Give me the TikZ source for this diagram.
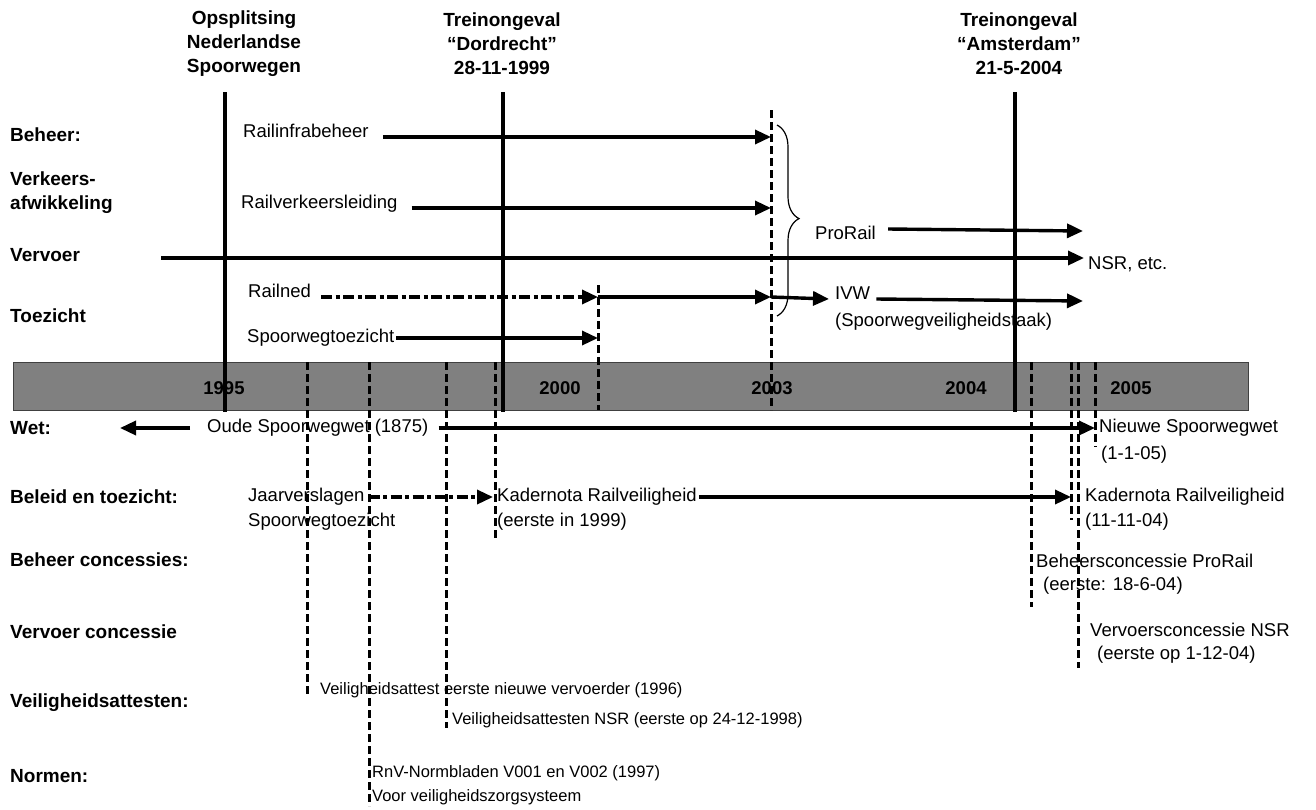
\documentclass[tikz,border=0pt]{standalone}
\usepackage{fontspec}
\setmainfont{Liberation Sans}
\usetikzlibrary{arrows.meta,decorations.pathreplacing}
\tikzset{
  lbl/.style={font=\bfseries\fontsize{19}{24}\selectfont, anchor=west, align=left, inner sep=0pt},
  txt/.style={font=\fontsize{18.5}{25}\selectfont, anchor=west, inner sep=0pt},
  txtsmall/.style={font=\fontsize{16.5}{24}\selectfont, anchor=west, inner sep=0pt},
  hdr/.style={font=\bfseries\fontsize{19}{24}\selectfont, align=center, inner sep=0pt},
  yr/.style={font=\bfseries\fontsize{18.5}{20}\selectfont, inner sep=0pt},
  eventline/.style={line width=3.4pt},
  datum/.style={line width=3pt, dash pattern=on 8pt off 4pt},
  arr/.style={line width=3.4pt, -{Triangle[length=16pt,width=14pt]}},
  dasharr/.style={arr, dash pattern=on 11pt off 3.5pt on 4pt off 3.5pt}
}
\begin{document}
\begin{tikzpicture}[x=1pt,y=-1pt]
\useasboundingbox (0,0) rectangle (1316,809);
% time bar
\node[draw=black!75, line width=1.4pt, fill=black!50, minimum width=1235pt, minimum height=48pt, inner sep=0pt, anchor=north west] (bar) at (13,362) {};
\node[yr] (y1995) at (224,388) {1995};
\node[yr] (y2000) at (560,388) {2000};
\node[yr] (y2003) at (772,388) {2003};
\node[yr] (y2004) at (966,388) {2004};
\node[yr] (y2005) at (1131,388) {2005};
% events
\node[hdr] (hops) at (244,44) {Opsplitsing\\Nederlandse\\Spoorwegen};
\node[hdr] (hdord) at (502,44) {Treinongeval\\``Dordrecht''\\28-11-1999};
\node[hdr] (hamst) at (1019,44) {Treinongeval\\``Amsterdam''\\21-5-2004};
\coordinate (ops) at (225,92);
\coordinate (dord) at (503,92);
\coordinate (amst) at (1015,92);
\draw[eventline] (ops) -- (225,412);
\draw[eventline] (dord) -- (503,412);
\draw[eventline] (amst) -- (1015,412);
% dashed markers
\coordinate (t00) at (598,285);
\coordinate (t03) at (771,110);
\coordinate (t04) at (1071,362);
\coordinate (t05) at (1095,362);
\draw[datum] (307,362) -- (307,697);
\draw[datum] (369,362) -- (369,806);
\draw[datum] (446,362) -- (446,728);
\draw[datum] (495,362) -- (495,540);
\draw[datum] (t00) -- (598,410);
\draw[datum] (t03) -- (771,410);
\draw[datum] (1031,362) -- (1031,607);
\draw[datum] (t04) -- (1071,520);
\draw[datum] (1078,362) -- (1078,668);
\draw[datum] (t05) -- (1095,447);
% row labels
\node[lbl] (beheer) at (10,135) {Beheer:};
\node[lbl] (verkeer) at (10,193) {Verkeers-\\afwikkeling};
\node[lbl] (vervoer) at (10,255) {Vervoer};
\node[lbl] (toezicht) at (10,316) {Toezicht};
\node[lbl] (wet) at (10,428) {Wet:};
\node[lbl] (beleid) at (10,497) {Beleid en toezicht:};
\node[lbl] (bconc) at (10,560) {Beheer concessies:};
\node[lbl] (vconc) at (10,632) {Vervoer concessie};
\node[lbl] (vatt) at (10,703) {Veiligheidsattesten:};
\node[lbl] (normen) at (10,776) {Normen:};
% organisations
\node[txt, anchor=base west] (infra) at (243,137) {Railinfrabeheer};
\node[txt, anchor=base west] (rvl) at (241,208) {Railverkeersleiding};
\node[txt, anchor=base west] (railned) at (248,297) {Railned};
\node[txt] (sptz) at (247,338) {Spoorwegtoezicht};
\node[txt] (prorail) at (815,233) {ProRail};
\node[txt] (nsr) at (1088,264) {NSR, etc.};
\node[txt, anchor=base west] (ivw) at (835,299) {IVW};
\node[txt] (svt) at (835,322) {(Spoorwegveiligheidstaak)};
\coordinate (vstart) at (161,258);
\coordinate (prend) at (1083,231);
\coordinate (ivwend) at (1083,301);
\draw[arr] ([xshift=14pt]infra.base east) -- (infra.base east -| t03);
\draw[arr] ([xshift=14pt]rvl.base east) -- (rvl.base east -| t03);
\draw[arr] (vstart) -- ([xshift=-4pt]vstart -| nsr.west);
\draw[arr] ([xshift=12pt,yshift=4pt]prorail.east) -- (prend);
\draw[dasharr] ([xshift=10pt]railned.base east) -- (railned.base east -| t00);
\draw[arr] (railned.base east -| t00) -- (railned.base east -| t03);
\draw[arr] (railned.base east -| t03) -- ([xshift=-6pt]ivw.base west);
\draw[arr] ([xshift=6pt]ivw.base east) -- (ivwend);
\draw[arr] ([xshift=2pt]sptz.east) -- (sptz.east -| t00);
\draw[line width=1.2pt, decorate, decoration={brace, amplitude=22pt, aspect=0.49}] (777,125) -- (777,316);
% documents
\node[txt] (oude) at (207,428) {Oude Spoorwegwet (1875)};
\node[txt] (jaar) at (248,497) {Jaarverslagen};
\node[txt] (jaarb) at (248,522) {Spoorwegtoezicht};
\node[txt] (kad1) at (497,497) {Kadernota Railveiligheid};
\node[txt] (kad1b) at (497,522) {(eerste in 1999)};
\node[txt] (nieuw) at (1099,428) {Nieuwe Spoorwegwet};
\node[txt] (nieuwb) at (1101,455) {(1-1-05)};
\node[txt] (kad2) at (1085,497) {Kadernota Railveiligheid};
\node[txt] (kad2b) at (1085,522) {(11-11-04)};
\node[txt] (bcp) at (1036,561) {Beheersconcessie ProRail};
\node[txt] (bcpb) at (1043,586) {(eerste: 18-6-04)};
\node[txt] (vcn) at (1090,630) {Vervoersconcessie NSR};
\node[txt] (vcnb) at (1097,655) {(eerste op 1-12-04)};
\node[txtsmall] (va1) at (320,690) {Veiligheidsattest eerste nieuwe vervoerder (1996)};
\node[txtsmall] (va2) at (452,720) {Veiligheidsattesten NSR (eerste op 24-12-1998)};
\node[txtsmall] (rnv) at (372,773) {RnV-Normbladen V001 en V002 (1997)};
\node[txtsmall] (rnvb) at (372,797) {Voor veiligheidszorgsysteem};
\draw[arr] ([xshift=-17pt]oude.west) -- ([xshift=-87pt]oude.west);
\draw[arr] ([xshift=10pt]oude.east) -- (oude.east -| t05);
\draw[dasharr] ([xshift=4pt]jaar.east) -- ([xshift=-4pt]kad1.west);
\draw[arr] ([xshift=2pt]kad1.east) -- (kad1.east -| t04);
\end{tikzpicture}
\end{document}
